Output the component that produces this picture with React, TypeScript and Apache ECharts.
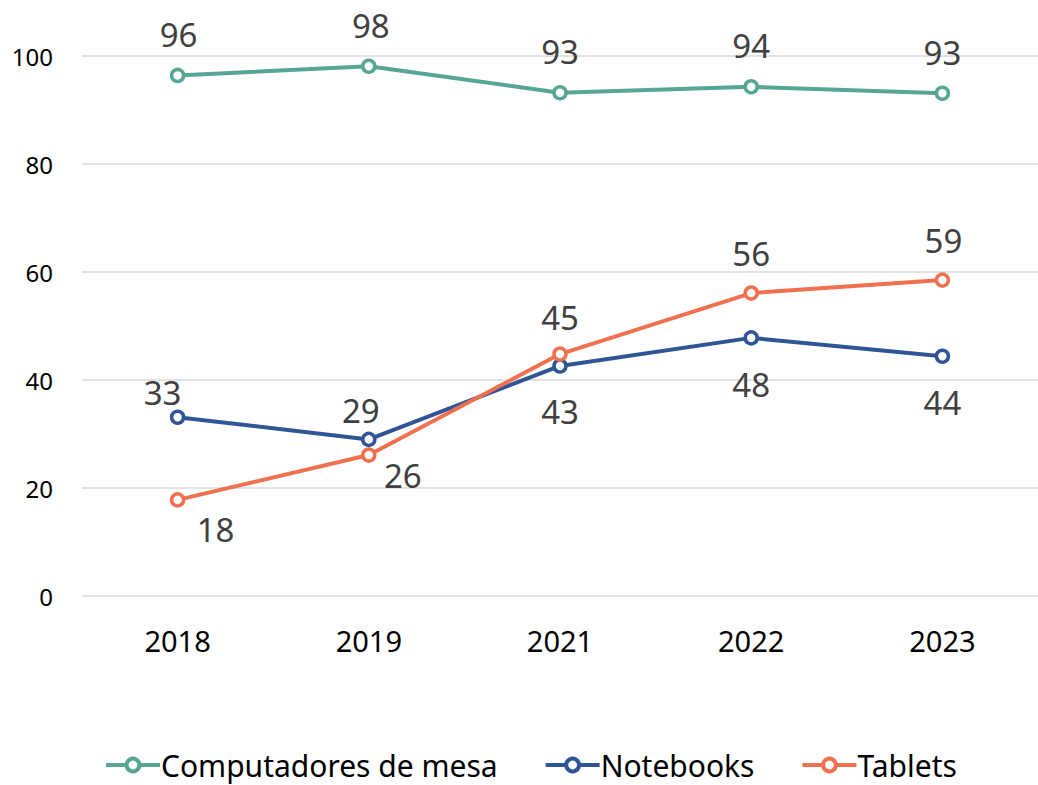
import React, { useEffect, useRef } from "react";
import * as echarts from "echarts";

const categories = ["2018", "2019", "2021", "2022", "2023"];
const desktops = [96.4, 98.1, 93.2, 94.3, 93.1];
const notebooks = [33.1, 29.0, 42.6, 47.8, 44.4];
const tablets = [17.8, 26.1, 44.8, 56.1, 58.5];
const seriesNames = ["Computadores de mesa", "Notebooks", "Tablets"];
const yTicks = [0, 20, 40, 60, 80, 100];

const FONT = "'Noto Sans', 'Open Sans', sans-serif";

export default function App() {
  const ref = useRef<HTMLDivElement>(null);
  useEffect(() => {
    if (!ref.current) return;
    const chart = echarts.init(ref.current, null, { renderer: "svg" });

    // label placement (offset from the point to the label centre)
    const labelOffsets: number[][][] = [
      [[1, -41], [2, -41], [0, -41], [0, -41], [0, -41]],
      [[-15, -25], [-8, -29], [0, 46], [0, 47], [0, 46]],
      [[38, 30], [34, 20], [0, -37], [0, -40], [1, -40]],
    ];

    const mk = (si: number, color: string, values: number[]) => ({
      name: seriesNames[si],
      type: "line",
      data: values.map((v, i) => ({
        value: v,
        label: {
          show: true,
          position: "inside",
          offset: labelOffsets[si][i],
          fontSize: 33,
          color: "#404040",
          fontFamily: FONT,
          formatter: (p: any) => String(Math.round(p.value)),
        },
      })),
      symbol: "circle",
      symbolSize: 12,
      showSymbol: true,
      z: 2 + si,
      lineStyle: { color, width: 4 },
      itemStyle: { color: "#ffffff", borderColor: color, borderWidth: 3.5 },
      emphasis: { disabled: true },
    });

    chart.setOption({
      animation: false,
      textStyle: { fontFamily: FONT },
      grid: { left: 82, right: 0, top: 56, bottom: 189, containLabel: false },
      xAxis: {
        type: "category",
        data: categories,
        boundaryGap: true,
        axisLine: { show: false },
        axisTick: { show: false },
        axisLabel: { fontSize: 29, color: "#000000", margin: 30, fontFamily: FONT },
      },
      yAxis: {
        type: "value",
        min: yTicks[0],
        max: yTicks[yTicks.length - 1],
        interval: 20,
        axisLine: { show: false },
        axisTick: { show: false },
        splitLine: { lineStyle: { color: "#D9D9D9", width: 1.5 } },
        axisLabel: { fontSize: 24, color: "#000000", margin: 29, fontFamily: FONT },
      },
      legend: {
        data: seriesNames,
        bottom: 5,
        left: 104,
        padding: 0,
        itemWidth: 54,
        itemHeight: 16,
        itemGap: 46,
        lineStyle: { width: 4 },
        itemStyle: { borderWidth: 4 },
        textStyle: { fontSize: 30, color: "#000000", fontFamily: FONT, padding: [0, 0, 0, -4] },
      },
      series: [
        mk(0, "#55A692", desktops),
        mk(1, "#2F5597", notebooks),
        mk(2, "#F0714F", tablets),
      ],
    });
    return () => chart.dispose();
  }, []);
  return (
    <div
      ref={ref}
      style={{ position: "fixed", left: 0, top: 0, width: 1038, height: 785, background: "#ffffff" }}
    />
  );
}
